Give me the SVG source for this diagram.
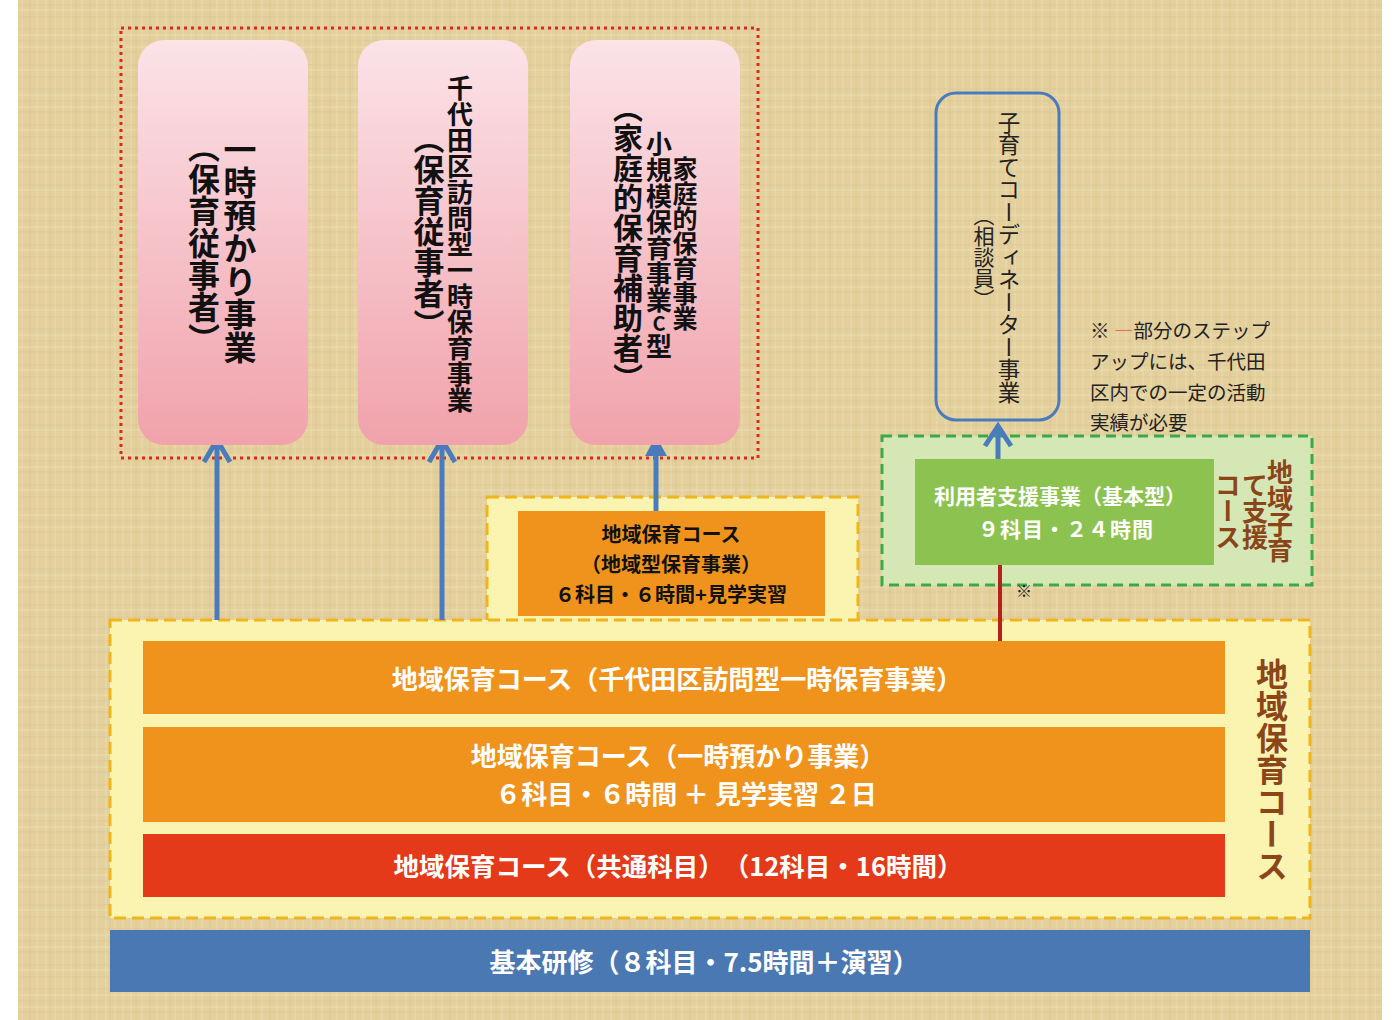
<svg xmlns="http://www.w3.org/2000/svg" width="1398" height="1020" viewBox="0 0 1398 1020">
<style>
text{font-family:"Noto Sans CJK JP","Noto Sans",sans-serif;font-weight:700}
.v{writing-mode:vertical-rl;text-anchor:middle}
.pink{fill:url(#pinkG)}
.blk{fill:#111}
.wht{fill:#fff}
.brn{fill:#8a4519}
.ybox{fill:#fbf3b0;stroke:#f0b51d;stroke-width:3;stroke-dasharray:12 6}
.arr{stroke:#4a7bbd;stroke-width:5;fill:none}
.c{text-anchor:middle}
.reg{font-weight:400;fill:#222}
</style>
<defs>
<linearGradient id="pinkG" x1="0" y1="0" x2="0" y2="1">
<stop offset="0" stop-color="#fbe3e8"/>
<stop offset="1" stop-color="#f1a2ab"/>
</linearGradient>
<pattern id="linen" width="60" height="60" patternUnits="userSpaceOnUse">
<rect width="60" height="60" fill="#e4d09c"/>
<path d="M3 0V60M11 0V60M22 0V60M37 0V60M46 0V60M55 0V60" stroke="#efe2ba" stroke-width="1.2" opacity="0.5"/>
<path d="M0 5H60M0 17H60M0 29H60M0 41H60M0 52H60" stroke="#d6bf88" stroke-width="1" opacity="0.4"/>
<path d="M0 10H60M0 35H60M0 47H60" stroke="#f0e3bd" stroke-width="1.4" opacity="0.4"/>
<path d="M16 0V60M30 0V60M50 0V60" stroke="#d4bc84" stroke-width="1" opacity="0.4"/>
</pattern>
</defs>
<rect x="0" y="0" width="1398" height="1020" fill="#fff"/>
<rect x="18" y="0" width="1364" height="1020" fill="url(#linen)"/>

<!-- containers -->
<rect x="121" y="28" width="637" height="430" fill="none" stroke="#e0271c" stroke-width="3" stroke-dasharray="3 4"/>
<rect class="ybox" x="487" y="497" width="371" height="125"/>
<rect x="882" y="436" width="430" height="149" fill="#d6e7b6" stroke="#3aa948" stroke-width="3" stroke-dasharray="10 6"/>
<rect class="ybox" x="110" y="620" width="1200" height="298"/>

<!-- connectors -->
<g id="connectors">
<path class="arr" d="M217 620V440M204 462L217 440L230 462"/>
<path class="arr" d="M442 620V440M429 462L442 440L455 462"/>
<path class="arr" d="M656 511V452"/>
<path d="M645 456L656 436L667 456Z" fill="#4a7bbd"/>
<path class="arr" d="M998 459V426M985 446L998 426L1011 446"/>
<path d="M1000 565V641" stroke="#b3221d" stroke-width="4"/>
</g>

<!-- pink nodes -->
<g id="node-ichiji">
<rect class="pink" x="138" y="40" width="170" height="405" rx="26"/>
<text class="v blk" x="240" y="248" font-size="33">一時預かり事業</text>
<text class="v blk" x="204" y="243" font-size="32">（保育従事者）</text>
</g>
<g id="node-houmon">
<rect class="pink" x="358" y="40" width="170" height="405" rx="26"/>
<text class="v blk" x="460" y="244" font-size="26">千代田区訪問型一時保育事業</text>
<text class="v blk" x="429" y="231" font-size="31">（保育従事者）</text>
</g>
<g id="node-katei">
<rect class="pink" x="570" y="40" width="170" height="405" rx="26"/>
<text class="v blk" x="685" y="243" font-size="25">家庭的保育事業</text>
<text class="v blk" x="659" y="245" font-size="26" style="text-orientation:upright">小規模保育事業<tspan font-size="20">C</tspan>型</text>
<text class="v blk" x="628" y="243" font-size="30">（家庭的保育補助者）</text>
</g>

<!-- coordinator -->
<g id="node-coordinator">
<rect x="936" y="93" width="123" height="327" rx="20" fill="none" stroke="#4a7bbd" stroke-width="3"/>
<text class="v reg" x="1009" y="257" font-size="22.5">子育てコーディネーター事業</text>
<text class="v reg" x="984" y="257" font-size="21">（相談員）</text>
</g>

<g id="note">
<text class="reg" x="1090" y="338" font-size="19.5">※ <tspan fill="#e8573a">―</tspan>部分のステップ</text>
<text class="reg" x="1090" y="369" font-size="19.5">アップには、千代田</text>
<text class="reg" x="1090" y="400" font-size="19.5">区内での一定の活動</text>
<text class="reg" x="1090" y="430" font-size="19.5">実績が必要</text>
</g>

<!-- middle orange -->
<g id="node-chiikigata">
<rect x="518" y="511" width="307" height="105" fill="#f0931c"/>
<text class="c blk" x="671" y="542" font-size="20">地域保育コース</text>
<text class="c blk" x="671" y="572" font-size="20">（地域型保育事業）</text>
<text class="c blk" x="671" y="602" font-size="20">６科目・６時間+見学実習</text>
</g>

<!-- green -->
<g id="node-riyousha">
<rect x="915" y="459" width="299" height="106" fill="#8cc24f"/>
<text class="c wht" x="1060" y="504" font-size="21">利用者支援事業（基本型）</text>
<text class="c wht" x="1066" y="537" font-size="21" letter-spacing="1">９科目・２４時間</text>
</g>
<g id="label-kosodate">
<text class="v brn" x="1280" y="511" font-size="26">地域子育</text>
<text class="v brn" x="1255" y="511" font-size="26">て支援</text>
<text class="v brn" x="1228" y="511" font-size="26">コース</text>
</g>
<text x="1024" y="597" font-size="16" class="c reg">※</text>

<!-- bottom bars -->
<g id="node-houmon-course">
<rect x="143" y="641" width="1082" height="73" fill="#f0931c"/>
<text class="c wht" x="677" y="689" font-size="26">地域保育コース（千代田区訪問型一時保育事業）</text>
</g>
<g id="node-ichiji-course">
<rect x="143" y="727" width="1082" height="95" fill="#f0931c"/>
<text class="c wht" x="678" y="766" font-size="26">地域保育コース（一時預かり事業）</text>
<text class="c wht" x="686" y="804" font-size="26">６科目・６時間 ＋ 見学実習 ２日</text>
</g>
<g id="node-kyotsu">
<rect x="143" y="834" width="1082" height="63" fill="#e43a19"/>
<text class="c wht" x="678" y="876" font-size="25.5">地域保育コース（共通科目）　（12科目・16時間）</text>
</g>
<g id="label-chiiki">
<text class="v brn" x="1272" y="770" font-size="32">地域保育コース</text>
</g>
<g id="node-kihon">
<rect x="110" y="930" width="1200" height="62" fill="#4a78b2"/>
<text class="c wht" x="704" y="972" font-size="26">基本研修（８科目・7.5時間＋演習）</text>
</g>
</svg>
